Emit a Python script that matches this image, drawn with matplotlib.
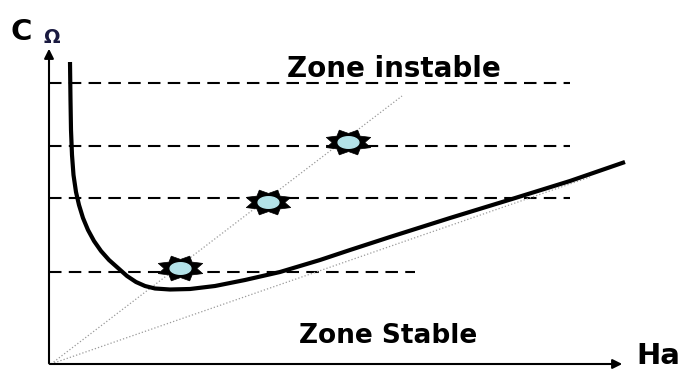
import numpy as np
import matplotlib.pyplot as plt
from matplotlib.path import Path

# values in an arbitrary "Ha / C_omega" unit space, origin at the corner of the axes
curve_x = [21, 21.5, 22, 23, 24.5, 27, 30, 34, 39, 45, 52, 60, 69, 78, 87, 96, 106, 121, 141,
           166, 196, 231, 271, 301, 341, 401, 463, 521, 576]
curve_y = [302, 264, 234, 209, 189, 172, 159, 146, 134, 123, 113, 104, 96, 88, 82, 78, 75.5, 74.5, 75,
           78, 84, 92, 104, 114, 127, 146, 165, 183, 202]

dash_levels = [92, 166, 218, 281]
dash_ends = [366, 521, 521, 521]

steep_x = [2, 353]
steep_y = [0, 268]
shallow_x = [2, 541]
shallow_y = [0, 187]

star_x = [131, 219, 299]
star_y = [96, 162, 222]

x_axis = ([-2, 576], [0, 0])
y_axis = ([0, 0], [-2, 318])

fig = plt.figure(figsize=(6.95, 3.71), dpi=100)
ax = fig.add_axes([0, 0, 1, 1])
ax.set_xlim(-49, 646)
ax.set_ylim(-7, 364)
ax.axis('off')

for lvl, end in zip(dash_levels, dash_ends):
  ax.plot([0, end], [lvl, lvl], color='black', lw=1.5, linestyle=(0, (6, 3.5)))

ax.plot(steep_x, steep_y, color='#9a9a9a', lw=0.9, linestyle=':')
ax.plot(shallow_x, shallow_y, color='#9a9a9a', lw=0.9, linestyle=':')

ax.plot(curve_x, curve_y, color='black', lw=3, solid_joinstyle='round', solid_capstyle='butt')

# axes arrows
ax.annotate('', xy=(x_axis[0][1], x_axis[1][1]), xytext=(x_axis[0][0], x_axis[1][0]),
            arrowprops=dict(arrowstyle='-|>', color='black', lw=1.5, mutation_scale=14))
ax.annotate('', xy=(y_axis[0][1], y_axis[1][1]), xytext=(y_axis[0][0], y_axis[1][0]),
            arrowprops=dict(arrowstyle='-|>', color='black', lw=1.5, mutation_scale=14))

# wide spiky star markers with light blue centre
ang = np.linspace(0, 2*np.pi, 17)[:-1] + np.pi/8
rad = np.where(np.arange(16) % 2 == 0, 1.0, 0.68)
star_verts = np.column_stack([1.8*rad*np.cos(ang), rad*np.sin(ang)])
star_marker = Path(np.vstack([star_verts, star_verts[:1]]), closed=True)
t = np.linspace(0, 2*np.pi, 40)
ell_marker = Path(np.column_stack([1.8*np.cos(t), np.sin(t)]), closed=True)

ax.plot(star_x, star_y, linestyle='none', marker=star_marker, markersize=32,
        markerfacecolor='black', markeredgecolor='black', markeredgewidth=0.5)
ax.plot(star_x, star_y, linestyle='none', marker=ell_marker, markersize=15,
        markerfacecolor='#b3e2e8', markeredgecolor='#b3e2e8')

font = 'DejaVu Sans'
ax.text(345, 287, 'Zone instable', fontsize=20, fontweight='bold', family=font,
        ha='center', va='baseline')
ax.text(339, 21, 'Zone Stable', fontsize=19, fontweight='bold', family=font,
        ha='center', va='baseline')
ax.text(-39, 324, 'C', fontsize=21, fontweight='bold', family=font, ha='left', va='baseline')
ax.text(-5, 321, 'Ω', fontsize=14, fontweight='bold', family=font, ha='left', va='baseline',
        color='#1a1a40')
ax.text(587, -6.5, 'Ha', fontsize=21, fontweight='bold', family=font, ha='left', va='bottom')

fig.savefig('out.png', dpi=100)
